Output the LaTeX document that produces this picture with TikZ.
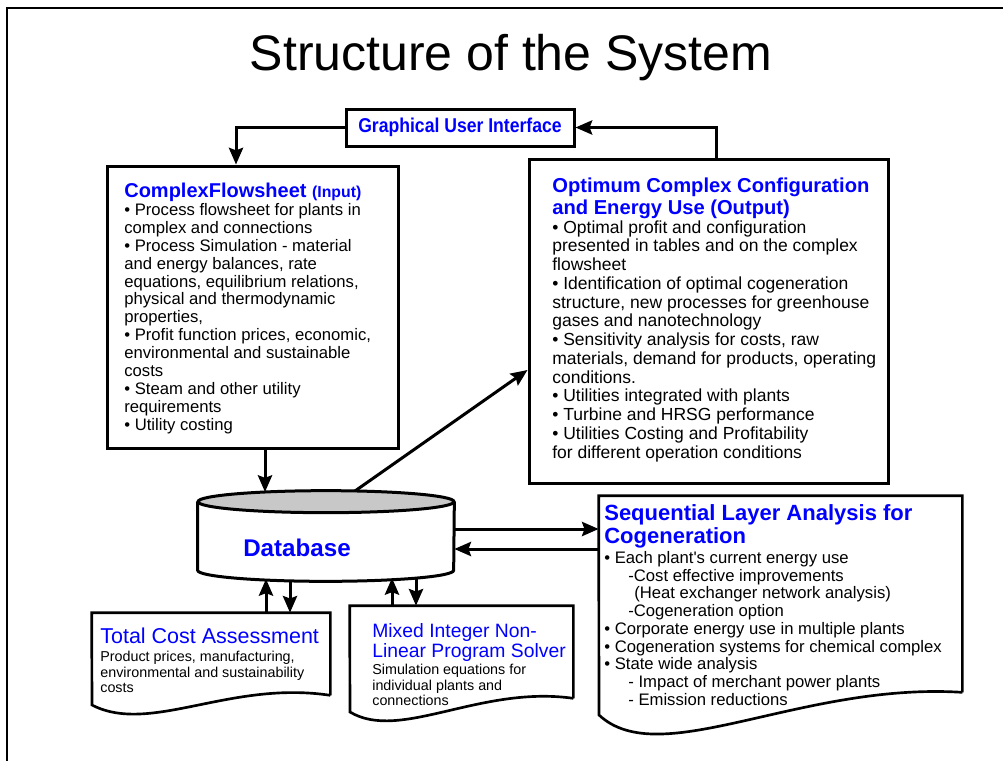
\documentclass[tikz,border=0pt]{standalone}
\usepackage{fontspec}
\setmainfont{Liberation Sans}
\newfontfamily\estreita[FakeStretch=0.88]{Liberation Sans}
\usetikzlibrary{positioning,arrows.meta}
\definecolor{meuazul}{RGB}{0,0,255}
\definecolor{meucinza}{RGB}{200,200,200}
\tikzset{
  caixa/.style={draw,line width=1.8pt,fill=white,inner sep=0pt},
  folha/.style={draw,line width=1.6pt,fill=white},
  seta/.style={line width=1.8pt,-{Stealth[length=10pt,width=8.5pt,inset=1.5pt]}},
  texto/.style={anchor=north west,inner sep=0pt,align=left},
  cabeca/.style={texto,text=meuazul},
}

\begin{document}
\begin{tikzpicture}[x=0.6pt,y=-0.6pt]
\useasboundingbox (0,0) rectangle (1003,761);
\draw[line width=1pt] (7,761) -- (7,8) -- (1003,8);
\node[anchor=base] (titulo) at (511,70) {\fontsize{30}{36}\selectfont Structure of the System};

\node[caixa,minimum width=136.8pt,minimum height=22.2pt] (gui) at (460,127.5)
  {\estreita\bfseries\fontsize{12}{14}\selectfont\color{meuazul}Graphical User Interface};
\node[caixa,minimum width=174.6pt,minimum height=169.2pt] (entrada) at (252.5,307) {};
\node[caixa,minimum width=215.4pt,minimum height=194.4pt] (saida) at (708.5,321) {};

\node[cabeca,font=\bfseries] (entradatit) at (124,183)
  {\fontsize{12}{13}\selectfont ComplexFlowsheet \fontsize{9.5}{13}\selectfont(Input)};
\node[texto,font={\fontsize{10}{10.75}\selectfont}] (entradatxt) at (124,203)
  {• Process flowsheet for plants in\\complex and connections\\
   • Process Simulation - material\\and energy balances, rate\\
   equations, equilibrium relations,\\physical and thermodynamic\\properties,\\
   • Profit function prices, economic,\\environmental and sustainable\\costs\\
   • Steam and other utility\\requirements\\• Utility costing};

\node[cabeca,font={\bfseries\fontsize{12.1}{13.2}\selectfont}] (saidatit) at (552,178)
  {Optimum Complex Configuration\\and Energy Use (Output)};
\node[texto,font={\fontsize{10.5}{11.25}\selectfont}] (saidatxt) at (552,220)
  {• Optimal profit and configuration\\presented in tables and on the complex\\flowsheet\\
   • Identification of optimal cogeneration\\structure, new processes for greenhouse\\gases and nanotechnology\\
   • Sensitivity analysis for costs, raw\\materials, demand for products, operating\\conditions.\\
   • Utilities integrated with plants\\• Turbine and HRSG performance\\
   • Utilities Costing and Profitability\\for different operation conditions};

\node[minimum width=153.6pt,minimum height=40.8pt,inner sep=0pt] (banco) at (326,536) {};
\draw[fill=white,line width=1.8pt] (banco.north west) -- (banco.south west)
  arc[start angle=180,end angle=360,x radius=76.8pt,y radius=6.6pt] -- (banco.north east);
\draw[fill=meucinza,line width=1.8pt] (banco.north) ellipse[x radius=76.8pt,y radius=6.6pt];
\node[text=meuazul,font={\bfseries\fontsize{14.5}{16}\selectfont}] (bancotxt) at (297,548) {Database};

\node[minimum width=142.8pt,minimum height=49.2pt,inner sep=0pt] (custo) at (211,654) {};
\draw[folha] (custo.south east) -- (custo.north east) -- (custo.north west) -- (92,705)
  .. controls (150,735) and (230,680) .. (custo.south east);
\node[cabeca,font={\fontsize{12.9}{15}\selectfont}] (custotit) at (100,628) {Total Cost Assessment};
\node[texto,font={\fontsize{8.6}{9.3}\selectfont}] (custotxt) at (100,651)
  {Product prices, manufacturing,\\environmental and sustainability\\costs};

\node[minimum width=133.8pt,minimum height=55.2pt,inner sep=0pt] (solver) at (461.5,652) {};
\draw[folha] (solver.south east) -- (solver.north east) -- (solver.north west) -- (350,712)
  .. controls (400,742) and (480,685) .. (solver.south east);
\node[cabeca,font={\fontsize{11.6}{12}\selectfont}] (solvertit) at (372,623)
  {Mixed Integer Non-\\Linear Program Solver};
\node[texto,font={\fontsize{8.6}{9.3}\selectfont}] (solvertxt) at (372,664)
  {Simulation equations for\\individual plants and\\connections};

\node[minimum width=217.8pt,minimum height=117.6pt,inner sep=0pt] (sla) at (780.5,594) {};
\draw[folha] (sla.south east) -- (sla.north east) -- (sla.north west) -- (599,715)
  .. controls (660,772) and (800,682) .. (sla.south east);
\node[cabeca,font={\bfseries\fontsize{13.2}{13.8}\selectfont}] (slatit) at (604,504)
  {Sequential Layer Analysis for\\Cogeneration};
\node[texto,font={\fontsize{10}{10.65}\selectfont}] (slatxt) at (604,551)
  {• Each plant\textquotesingle s current energy use\\
   \hspace*{14.4pt}-Cost effective improvements\\
   \hspace*{18pt}(Heat exchanger network analysis)\\
   \hspace*{14.4pt}-Cogeneration option\\
   • Corporate energy use in multiple plants\\
   • Cogeneration systems for chemical complex\\
   • State wide analysis\\
   \hspace*{14.4pt}- Impact of merchant power plants\\
   \hspace*{14.4pt}- Emission reductions};

\coordinate (bt1) at (265,492);
\coordinate (bt2) at (355,491);
\coordinate (bb1) at (266,579);
\coordinate (bb2) at (290,580);
\coordinate (bb3) at (392,578);
\coordinate (bb4) at (416,577);
\coordinate (bd1) at ([yshift=4.2pt]banco.east);
\coordinate (bd2) at ([yshift=-7.8pt]banco.east);

\draw[seta] (gui.west) -| ([xshift=-9.9pt]entrada.north);
\draw[seta] ([xshift=4.5pt]saida.north) |- (gui.east);
\draw[seta] (bt1 |- entrada.south) -- (bt1);
\draw[seta] (bt2) -- ([yshift=-29.4pt]saida.west);
\draw[seta] (bd1) -- (bd1 -| sla.west);
\draw[seta] (bd2 -| sla.west) -- (bd2);
\draw[seta] (bb1 |- custo.north) -- (bb1);
\draw[seta] (bb2) -- (bb2 |- custo.north);
\draw[seta] (bb3 |- solver.north) -- (bb3);
\draw[seta] (bb4) -- (bb4 |- solver.north);
\end{tikzpicture}
\end{document}
